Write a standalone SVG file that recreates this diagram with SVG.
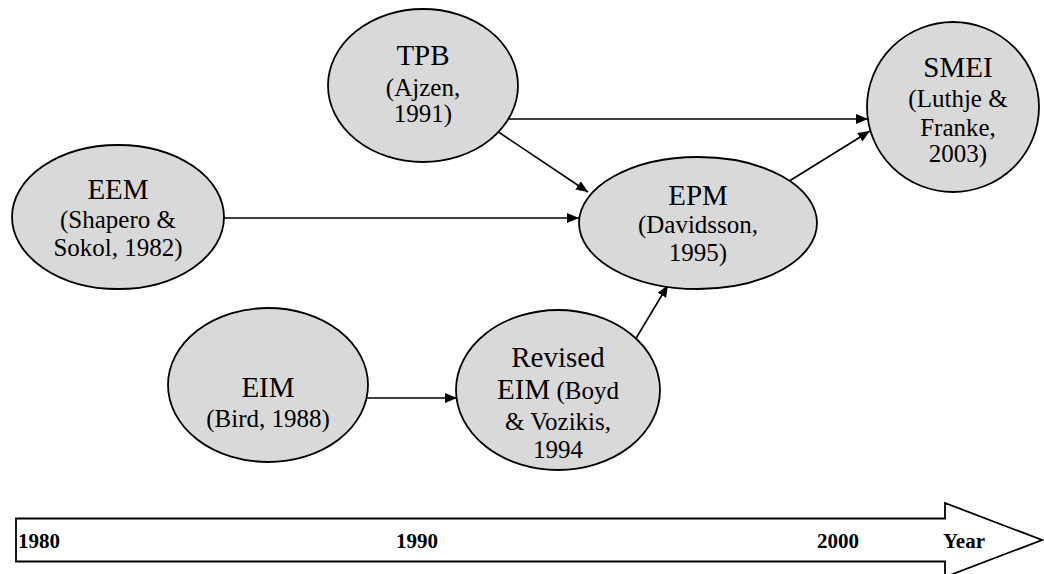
<svg xmlns="http://www.w3.org/2000/svg" width="1044" height="574" viewBox="0 0 1044 574">
  <style>
    .node { fill: #d9d9d9; stroke: #000; stroke-width: 1.8; }
    .t { font-family: "Liberation Serif", "Times New Roman", serif; fill: #000; text-anchor: middle; }
    .big { font-size: 29px; }
    .small { font-size: 25px; }
    .edge { stroke: #000; stroke-width: 1.6; fill: none; marker-end: url(#arrow); }
    .axis { fill: #fff; stroke: #000; stroke-width: 1.8; }
    .year { font-family: "Liberation Serif", "Times New Roman", serif; font-weight: bold; font-size: 21px; fill: #000; }
  </style>
  <defs>
    <marker id="arrow" markerWidth="12" markerHeight="10" refX="12" refY="5" orient="auto" markerUnits="userSpaceOnUse">
      <path d="M0,0 L12,5 L0,10 Z" fill="#000"/>
    </marker>
  </defs>

  <rect width="1044" height="574" fill="#fff"/>

  <!-- connectors -->
  <g id="connectors">
    <line class="edge" x1="509" y1="119" x2="868" y2="119"/>
    <line class="edge" x1="497" y1="131" x2="588" y2="192"/>
    <line class="edge" x1="224" y1="218" x2="579" y2="218"/>
    <line class="edge" x1="778" y1="188" x2="870" y2="131"/>
    <line class="edge" x1="367" y1="398" x2="457" y2="398"/>
    <line class="edge" x1="635" y1="340" x2="668" y2="285"/>
  </g>

  <!-- models -->
  <g id="tpb">
    <ellipse class="node" cx="423" cy="85.5" rx="95" ry="76.5"/>
    <text class="t big" x="423" y="65">TPB</text>
    <text class="t small" x="423" y="96">(Ajzen,</text>
    <text class="t small" x="423" y="122">1991)</text>
  </g>

  <g id="eem">
    <ellipse class="node" cx="118" cy="217" rx="106" ry="72"/>
    <text class="t big" x="118" y="199">EEM</text>
    <text class="t small" x="118" y="228">(Shapero &amp;</text>
    <text class="t small" x="118" y="256">Sokol, 1982)</text>
  </g>

  <g id="epm">
    <ellipse class="node" cx="698" cy="223" rx="119" ry="66"/>
    <text class="t big" x="698" y="205">EPM</text>
    <text class="t small" x="698" y="233">(Davidsson,</text>
    <text class="t small" x="698" y="261">1995)</text>
  </g>

  <g id="smei">
    <ellipse class="node" cx="953" cy="107" rx="86" ry="85"/>
    <text class="t big" x="958" y="77">SMEI</text>
    <text class="t small" x="958" y="107">(Luthje &amp;</text>
    <text class="t small" x="958" y="136">Franke,</text>
    <text class="t small" x="958" y="162">2003)</text>
  </g>

  <g id="eim">
    <ellipse class="node" cx="268" cy="385" rx="100" ry="77"/>
    <text class="t big" x="268" y="397">EIM</text>
    <text class="t small" x="268" y="427">(Bird, 1988)</text>
  </g>

  <g id="revised-eim">
    <ellipse class="node" cx="558" cy="390" rx="102" ry="80"/>
    <text class="t big" x="558" y="367">Revised</text>
    <text class="t" x="558" y="399"><tspan class="big">EIM</tspan><tspan class="small"> (Boyd</tspan></text>
    <text class="t small" x="558" y="430">&amp; Vozikis,</text>
    <text class="t small" x="558" y="458">1994</text>
  </g>

  <!-- time axis -->
  <g id="timeline">
    <polygon class="axis" points="16,518.5 945,518.5 945,503 1042,540 945,577 945,561.5 16,561.5"/>
    <text class="year" x="18" y="548">1980</text>
    <text class="year" x="396" y="548">1990</text>
    <text class="year" x="817" y="548">2000</text>
    <text class="year" x="943" y="548">Year</text>
  </g>
</svg>
